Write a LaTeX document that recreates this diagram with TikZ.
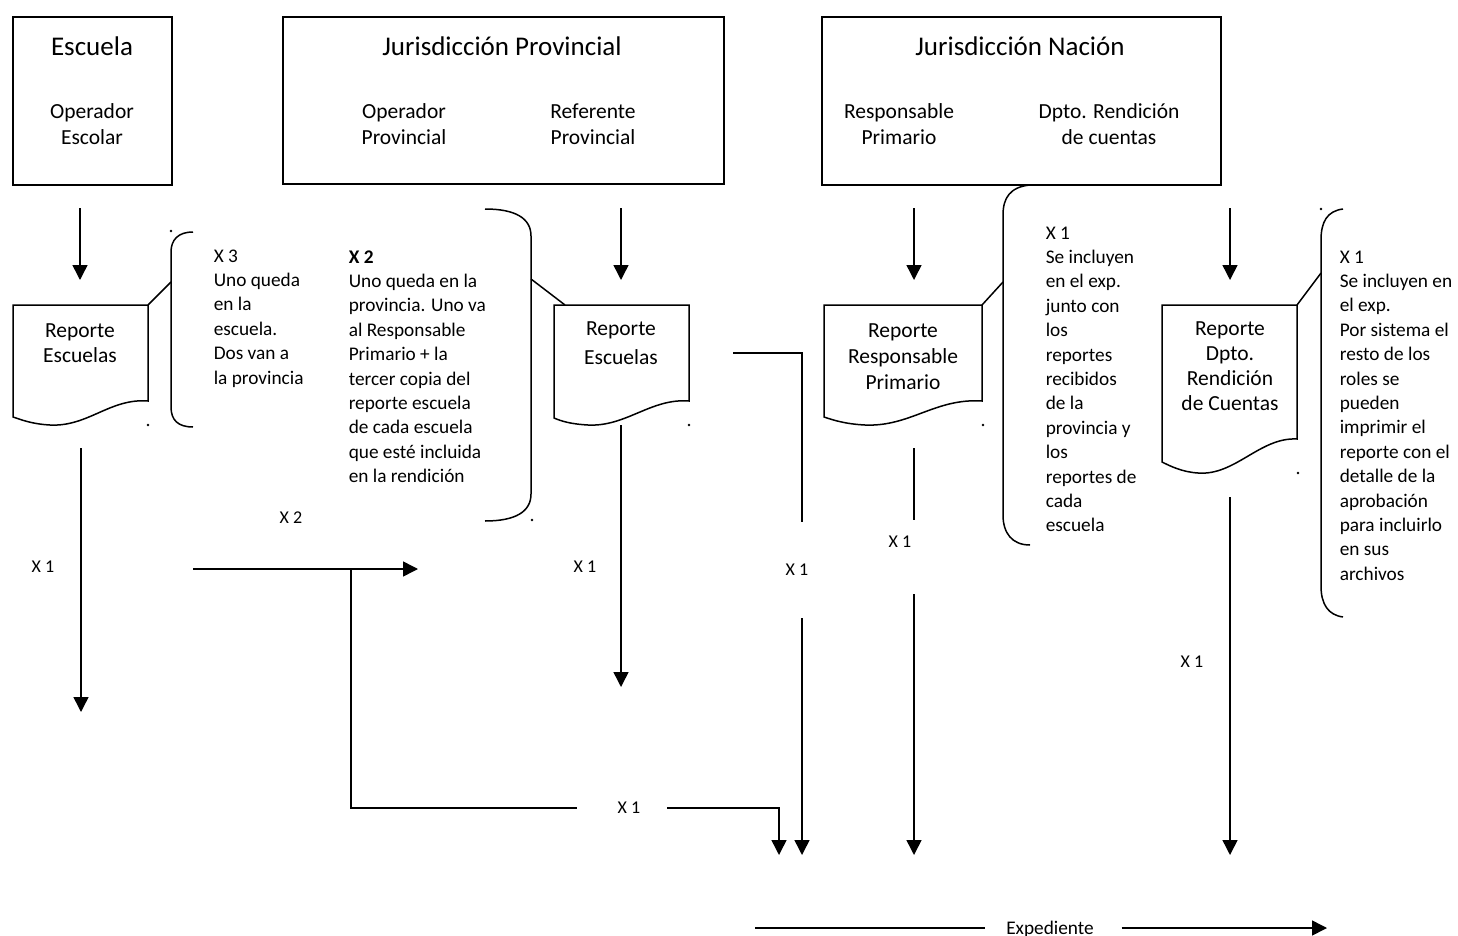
\documentclass[tikz,border=0pt]{standalone}
\usepackage{fontspec}
\setmainfont{Carlito}
\usetikzlibrary{arrows.meta}
\tikzset{>={Triangle[width=15pt,length=15pt]}}
\colorlet{penColor}{black}

\begin{document}
\begin{tikzpicture}[x=1pt,y=-1pt,line width=1.5pt,penColor,
	every node/.style={inner sep=0pt},
	box/.style={draw,rectangle},
	ttl/.style={anchor=base,font=\fontsize{27}{32}\selectfont},
	role/.style={anchor=base,align=center,font=\fontsize{21.5}{26}\selectfont},
	rep/.style={anchor=base,align=center,font=\fontsize{21.5}{25}\selectfont},
	note/.style={anchor=base west,align=left,font=\fontsize{19.3}{24.4}\selectfont},
	cnt/.style={font=\fontsize{18}{22}\selectfont}]
				\useasboundingbox (0,0) rectangle (1458,936);
				% cajas de arriba (base = ultima linea)
				\node[box,minimum width=159pt,minimum height=168pt] (esc) at (92.5,101) {};
				\node[box,minimum width=441pt,minimum height=167pt] (prov) at (503.5,100.5) {};
				\node[box,minimum width=399pt,minimum height=168pt] (nac) at (1021.5,101) {};
				\node[ttl] (tEsc) at (92,56) {Escuela};
				\node[role] (opEsc) at (92,145) {Operador\\Escolar};
				\node[ttl] (tProv) at (502,56) {Jurisdicción Provincial};
				\node[role] (opProv) at (404,145) {Operador\\Provincial};
				\node[role] (refProv) at (593,145) {Referente\\Provincial};
				\node[ttl] (tNac) at (1020,56) {Jurisdicción Nación};
				\node[role] (respPrim) at (899,145) {Responsable\\Primario};
				\node[role] (dptoRend) at (1109,145) {Dpto. Rendición\\de cuentas};
				
				% flechas de arriba
				\foreach \x/\n in {80/Esc,621/Prov,914/Resp,1230/Dpto}{
					\coordinate (top\n) at (\x,208);
					\coordinate (tip\n) at (\x,280);
					\draw[->] (top\n) -- (tip\n);
				}
				
				% documentos
				\draw (13,417) -- (13,305) -- (148,305) -- (148,401) .. controls (110,398) and (88,427) .. (50,425) .. controls (32,424) and (22,420) .. (13,417) -- cycle;
				\node[rep] (repEsc) at (80,362) {Reporte\\Escuelas};
				\draw (554,418) -- (554,305) -- (689,305) -- (689,401) .. controls (651,398) and (626,427) .. (588,425) .. controls (570,424) and (561,421) .. (554,418) -- cycle;
				\node[rep,font=\fontsize{21.5}{29}\selectfont] (repProv) at (621,364) {Reporte\\Escuelas};
				\draw (824,417) -- (824,305) -- (982,305) -- (982,401) .. controls (935,398) and (910,427) .. (865,425) .. controls (845,424) and (833,420) .. (824,417) -- cycle;
				\node[rep,font=\fontsize{21.5}{26}\selectfont] (repResp) at (903,389) {Reporte\\Responsable\\Primario};
				\draw (1162,462) -- (1162,305) -- (1297,305) -- (1297,439) .. controls (1260,437) and (1235,476) .. (1198,473) .. controls (1182,472) and (1170,466) .. (1162,462) -- cycle;
				\node[rep] (repDpto) at (1230,410) {Reporte\\Dpto.\\Rendición\\de Cuentas};
				
				% llaves con comentarios
				\draw (193,232) .. controls (178,232) and (171,240) .. (171,252) -- (171,407) .. controls (171,420) and (178,427) .. (193,427);
				\draw (148,305) -- (171,282);
				\node[note] (notaEsc) at (213,384) {X 3\\Uno queda\\en la\\escuela.\\Dos van a\\la provincia};
				
				\draw (485,209) .. controls (515,209) and (531,218) .. (531,236) -- (531,494) .. controls (531,512) and (515,521) .. (485,521);
				\draw (531,279) -- (565,305);
				\node[note] (notaProv) at (348,482.6) {\textbf{X 2}\\Uno queda en la\\provincia. Uno va\\al Responsable\\Primario + la\\tercer copia del\\reporte escuela\\de cada escuela\\que esté incluida\\en la rendición};
				
				\draw (1030,185) .. controls (1010,187) and (1003,198) .. (1003,215) -- (1003,515) .. controls (1003,533) and (1012,545) .. (1030,545);
				\draw (982,305) -- (1003,282);
				\node[note] (notaResp) at (1045,531.8) {X 1\\Se incluyen\\en el exp.\\junto con\\los\\reportes\\recibidos\\de la\\provincia y\\los\\reportes de\\cada\\escuela};
				
				\draw (1343,209) .. controls (1327,211) and (1321,222) .. (1321,240) -- (1321,586) .. controls (1321,604) and (1328,615) .. (1343,617);
				\draw (1297,305) -- (1321,273);
				\node[note] (notaDpto) at (1339,580.2) {X 1\\Se incluyen en\\el exp.\\Por sistema el\\resto de los\\roles se\\pueden\\imprimir el\\reporte con el\\detalle de la\\aprobación\\para incluirlo\\en sus\\archivos};
				
				% puntitos
				\foreach \p in {(171,231),(148,425),(532,520),(689,425),(983,425),(1321,209),(1298,473)}
					\fill \p circle (1.3pt);
				
				% flechas de abajo
				\coordinate (escA) at (81,448); \coordinate (escB) at (81,712);
				\draw[->] (escA) -- (escB);
				\node[cnt] (xEsc) at (43,567) {X 1};
				
				\coordinate (hA) at (193,569); \coordinate (hB) at (418,569); \coordinate (hC) at (351,569);
				\draw[->] (hA) -- (hB);
				\node[cnt] (xDos) at (291,518) {X 2};
				\coordinate (hD) at (351,808); \coordinate (hE) at (577,808);
				\draw (hC) -- (hD) -- (hE);
				\node[cnt] (xUnoA) at (629,808) {X 1};
				\coordinate (hF) at (667,808); \coordinate (hG) at (779,808); \coordinate (hH) at (779,855);
				\draw[->] (hF) -- (hG) -- (hH);
				
				\coordinate (provA) at (621,425); \coordinate (provB) at (621,687);
				\draw[->] (provA) -- (provB);
				\node[cnt] (xProv) at (585,567) {X 1};
				
				\coordinate (refA) at (733,353); \coordinate (refB) at (802,353); \coordinate (refC) at (802,522);
				\draw (refA) -- (refB) -- (refC);
				\node[cnt] (xRef) at (797,570) {X 1};
				\coordinate (refD) at (802,618); \coordinate (refE) at (802,855);
				\draw[->] (refD) -- (refE);
				
				\coordinate (respA) at (914,448); \coordinate (respB) at (914,520);
				\draw (respA) -- (respB);
				\node[cnt] (xResp) at (900,542) {X 1};
				\coordinate (respC) at (914,594); \coordinate (respD) at (914,855);
				\draw[->] (respC) -- (respD);
				
				\coordinate (dptoA) at (1230,497); \coordinate (dptoB) at (1230,855);
				\draw[->] (dptoA) -- (dptoB);
				\node[cnt] (xDpto) at (1192,662) {X 1};
				
				% expediente
				\node[anchor=base,font=\fontsize{19.3}{24}\selectfont] (exped) at (1050,934) {Expediente};
				\coordinate (expA) at (755,928); \coordinate (expB) at (1327,928);
				\draw (expA) -- ([xshift=-21pt]exped.west |- expA);
				\draw[->] ([xshift=27pt]exped.east |- expB) -- (expB);
\end{tikzpicture}
\end{document}
